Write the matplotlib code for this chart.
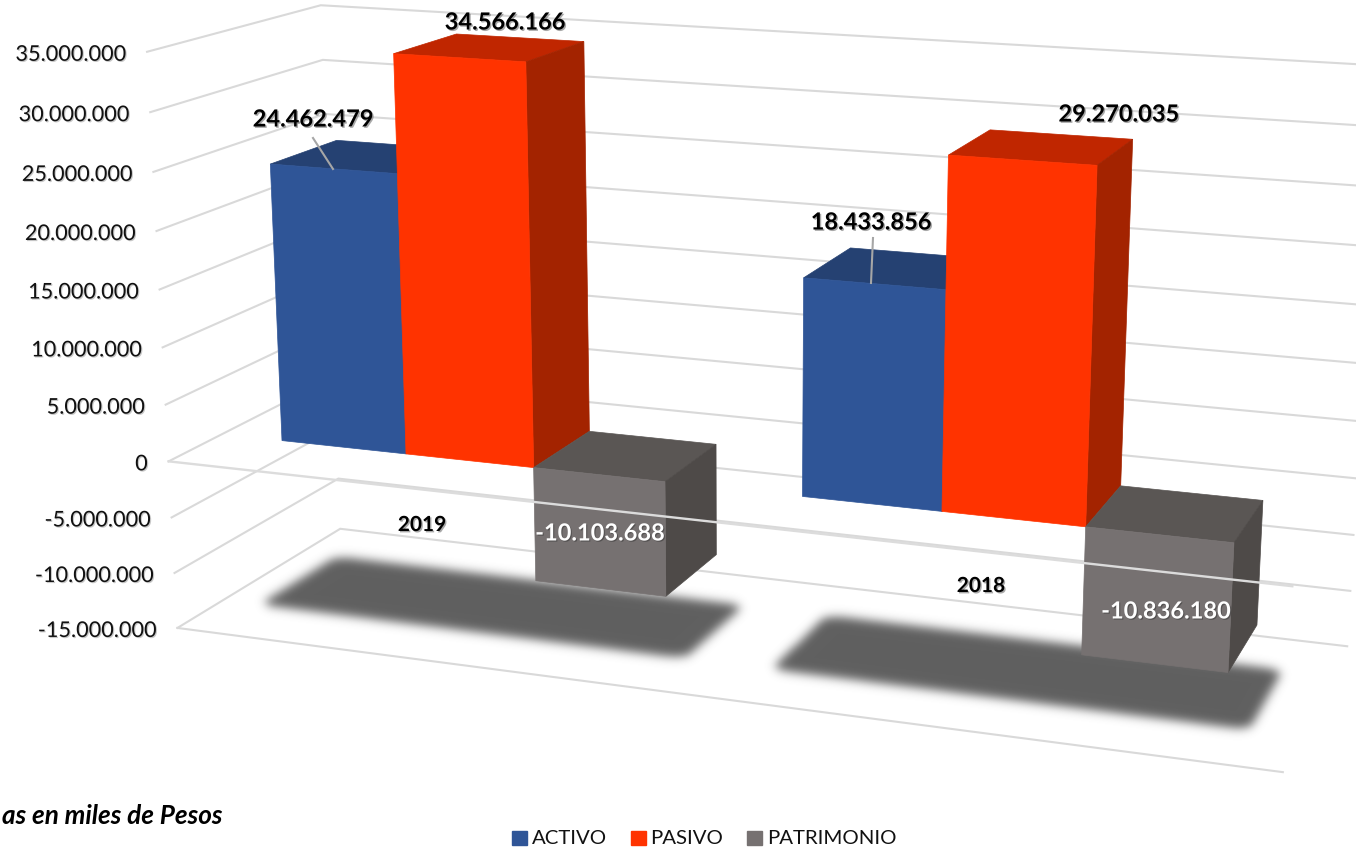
import numpy as np
import matplotlib

matplotlib.use("Agg")
import matplotlib.pyplot as plt
import matplotlib.patheffects as pe
from matplotlib.path import Path

plt.rcParams["font.family"] = ["Lato", "DejaVu Sans"]

# data, in miles de pesos
years = ["2019", "2018"]
activo = [24462479, 18433856]
pasivo = [34566166, 29270035]
patrimonio = [-10103688, -10836180]
series_names = ["ACTIVO", "PASIVO", "PATRIMONIO"]
ticks = [35, 30, 25, 20, 15, 10, 5, 0, -5, -10, -15]  # millions

# perspective camera: (x across 0-1, value in millions, z depth 0-1) -> pixels
P = np.array([
    [973.8219, -0.76839, 201.623981, 168.642241],
    [56.905257, -11.755277, -44.290297, 461.345855],
    [-0.115948, -0.001033, 0.106692, 1.0],
])


def proj(x, v, z):
    q = P @ np.array([x, v, z, 1.0])
    return q[0] / q[2], q[1] / q[2]


def poly(ax, corners, color, zorder):
    pts = [proj(*c) for c in corners]
    ax.fill(*zip(*pts), facecolor=color, edgecolor=color, linewidth=0.5, zorder=zorder)


def box(ax, x0, x1, val, colors, zorder):
    z0, z1 = 0.3, 0.7
    lo, hi = min(0, val), max(0, val)
    front, top, side = colors
    poly(ax, [(x0, hi, z0), (x1, hi, z0), (x1, hi, z1), (x0, hi, z1)], top, zorder)
    poly(ax, [(x1, lo, z0), (x1, hi, z0), (x1, hi, z1), (x1, lo, z1)], side, zorder)
    poly(ax, [(x0, lo, z0), (x1, lo, z0), (x1, hi, z0), (x0, hi, z0)], front, zorder)


def shadow(x0, x1, z0, z1, r, w, h, sigma=5.0):
    """Blurred rounded quad lying on the chart floor, as an alpha mask."""
    t = np.linspace(0, np.pi / 2, 12)
    rz = r * 2.2
    outline = []
    for cx, cz, start in [
        (x1 - r, z1 - rz, 0),
        (x0 + r, z1 - rz, np.pi / 2),
        (x0 + r, z0 + rz, np.pi),
        (x1 - r, z0 + rz, 3 * np.pi / 2),
    ]:
        for a in t + start:
            outline.append(proj(cx + r * np.cos(a), -15, cz + rz * np.sin(a)))
    path = Path(outline + [outline[0]])
    gx, gy = np.meshgrid(np.arange(w) + 0.5, np.arange(h) + 0.5)
    mask = path.contains_points(np.c_[gx.ravel(), gy.ravel()]).reshape(h, w).astype(float)
    rows = np.where(mask.any(axis=1))[0]
    cols = np.where(mask.any(axis=0))[0]
    pad = int(sigma * 3)
    r0, r1 = max(rows[0] - pad, 0), min(rows[-1] + pad, h)
    c0, c1 = max(cols[0] - pad, 0), min(cols[-1] + pad, w)
    kx = np.arange(-pad, pad + 1)
    k = np.exp(-kx**2 / (2 * sigma**2))
    k /= k.sum()
    crop = mask[r0:r1, c0:c1]
    crop = np.apply_along_axis(lambda m: np.convolve(m, k, mode="same"), 0, crop)
    crop = np.apply_along_axis(lambda m: np.convolve(m, k, mode="same"), 1, crop)
    mask[r0:r1, c0:c1] = crop
    return mask


W, H = 1356, 847
fig = plt.figure(figsize=(W / 100, H / 100), dpi=100)
ax = fig.add_axes([0, 0, 1, 1])
ax.set_xlim(0, W)
ax.set_ylim(H, 0)
ax.axis("off")

grid_c = "#d9d9d9"
for v in ticks:
    xs, ys = zip(proj(0, v, 0), proj(0, v, 1), proj(1, v, 1))
    ax.plot(xs, ys, color=grid_c, lw=1.5, zorder=1, solid_joinstyle="miter")
    lx, ly = proj(0, v, 0)
    ax.text(lx - 21, ly + 3, f"{v * 1000000:,}".replace(",", "."), ha="right", va="center",
            fontsize=15.6, color="#111111", zorder=8,
            path_effects=[pe.withSimplePatchShadow(offset=(0.8, -0.8), shadow_rgbFace="#777777", alpha=0.4)])
xs, ys = zip(proj(0, -15, 0), proj(1, -15, 0))
ax.plot(xs, ys, color=grid_c, lw=1.5, zorder=1)

# shadows on the floor
bar_w = 0.1245
margin = 0.0615
sh = np.zeros((H, W))
for c in range(len(years)):
    x0 = c * 0.5 + margin
    sh = np.maximum(sh, shadow(x0 - 0.024, x0 + 3 * bar_w + 0.022, 0.262, 0.745, 0.018, W, H))
rgba = np.zeros((H, W, 4))
rgba[..., :3] = 0x5f / 255
rgba[..., 3] = sh
ax.imshow(rgba, extent=(0, W, H, 0), aspect="auto", zorder=2, interpolation="bilinear")
ax.set_xlim(0, W)
ax.set_ylim(H, 0)

# bars
c_act = ("#2f5597", "#254172", "#1f3864")
c_pas = ("#ff3300", "#c02600", "#a32300")
c_pat = ("#767171", "#5a5654", "#4e4a48")
series = [(activo, c_act), (pasivo, c_pas), (patrimonio, c_pat)]
for c in range(len(years)):
    for s, (vals, cols) in enumerate(series):
        x0 = c * 0.5 + margin + s * bar_w
        box(ax, x0, x0 + bar_w, vals[c] / 1e6, cols, 3 + s * 0.1 + c)

# axis line at zero sits in front of the bars
xs, ys = zip(proj(0, 0, 0), proj(1, 0, 0))
ax.plot(xs, ys, color="#dcdcdc", lw=1.7, zorder=7)

# leader lines
ax.plot([313, 333], [138, 169], color="#a6a6a6", lw=1.5, zorder=7)
ax.plot([873, 871], [238, 283], color="#a6a6a6", lw=1.5, zorder=7)

fmt = lambda n: f"{n:,}".replace(",", ".")
dark = [pe.withSimplePatchShadow(offset=(1, -1), shadow_rgbFace="#555555", alpha=0.5)]
light = [pe.withSimplePatchShadow(offset=(0.8, -0.8), shadow_rgbFace="#333333", alpha=0.5)]
label_pos = {
    (0, 0): (313, 119), (0, 1): (505, 22), (0, 2): (600, 533),
    (1, 0): (871, 222), (1, 1): (1119, 114), (1, 2): (1166, 611),
}
for c in range(len(years)):
    for s, (vals, _) in enumerate(series):
        px, py = label_pos[(c, s)]
        neg = vals[c] < 0
        ax.text(px, py, fmt(vals[c]), ha="center", va="center", fontsize=17, fontweight="bold",
                color="white" if neg else "black", zorder=9, path_effects=light if neg else dark)

for year, px, py in zip(years, [422, 981], [525, 586]):
    ax.text(px, py, year, ha="center", va="center", fontsize=15, fontweight="bold",
            color="black", zorder=9, path_effects=dark)

ax.text(222, 816, "as en miles de Pesos", ha="right", va="center", fontsize=18.8,
        fontweight="bold", fontstyle="italic", color="black", zorder=9)

# legend
for name, col, sq, tx in zip(series_names, [c_act[0], c_pas[0], c_pat[0]], [512, 631, 747], [532, 650, 767]):
    ax.fill([sq, sq + 15, sq + 15, sq], [831, 831, 845, 845], color=col, zorder=9)
    ax.text(tx, 838, name, ha="left", va="center", fontsize=14.7, color="#111111", zorder=9)

fig.savefig("out.png", dpi=100)
